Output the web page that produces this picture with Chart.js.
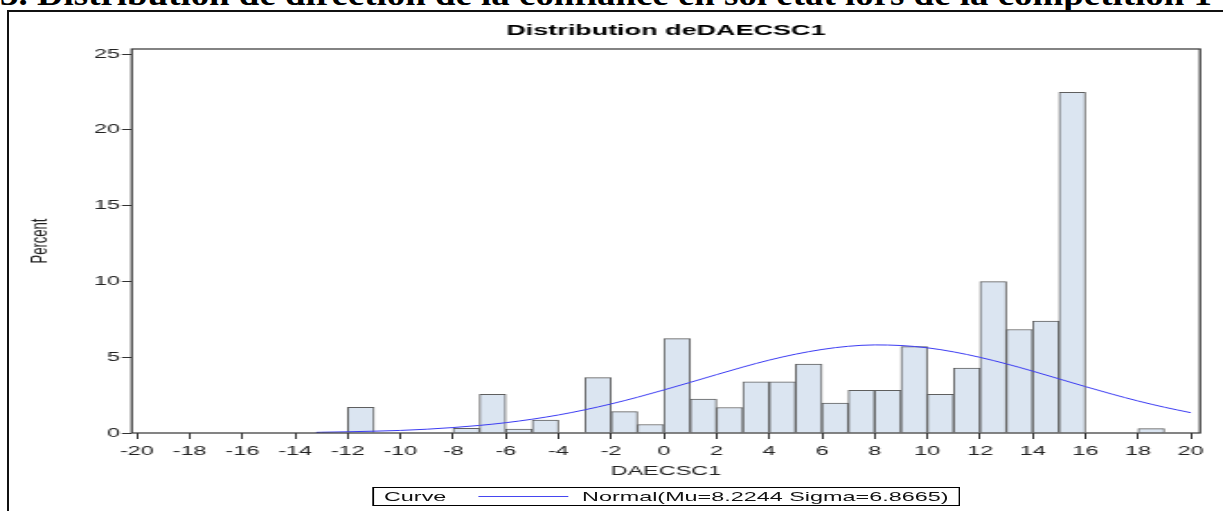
<!DOCTYPE html>
<html>
<head>
<meta charset="utf-8">
<script src="https://cdn.jsdelivr.net/npm/chart.js@4.4.1/dist/chart.umd.min.js"></script>
<style>
  html, body { margin:0; padding:0; background:#fff; }
  body { width:1223px; height:511px; overflow:hidden; position:relative; font-family:'Liberation Sans', Arial, sans-serif; }
  #heading { position:absolute; left:0; top:-22px; font:bold 32px/32px 'Liberation Serif', 'Times New Roman', serif; white-space:nowrap; transform-origin:0 0; color:#000; }
  #frame { position:absolute; left:7px; top:10px; width:1300px; height:600px; border-left:2px solid #111; border-top:2px solid #111; }
  /* the source picture is stretched horizontally, so draw narrow and scale */
  #wrap { position:absolute; left:0; top:0; width:680px; height:511px; transform:scaleX(1.79853); transform-origin:0 0; }
  #chart { position:absolute; left:0; top:0; }
  #legend { position:absolute; left:206.8px; top:487px; width:325px; height:17px; border:1px solid #000; font-size:13px; line-height:17px; color:#111; }
  #legend span { position:absolute; top:0; white-space:nowrap; }
  #legend .swatch { top:8px; height:0; width:50px; border-top:1px solid #4646f0; }
</style>
</head>
<body>
<div id="heading">3. Distribution de direction de la confiance en soi état lors de la compétition 1</div>
<div id="frame"></div>
<div id="wrap">
  <canvas id="chart" width="680" height="511"></canvas>
  <div id="legend">
    <span style="left:5.7px">Curve</span>
    <span class="swatch" style="left:58px"></span>
    <span style="left:115.8px">Normal(Mu=8.2244 Sigma=6.8665)</span>
  </div>
</div>
<script>
// histogram bins (left edge, width 1) and percent per bin
const binLeft = [-12, -8, -7, -6, -5, -3, -2, -1, 0, 1, 2, 3, 4, 5, 6, 7, 8, 9, 10, 11, 12, 13, 14, 15, 18];
const binPct  = [1.69, 0.30, 2.55, 0.26, 0.85, 3.65, 1.41, 0.56, 6.23, 2.23, 1.68, 3.37, 3.37, 4.55, 1.97, 2.81, 2.81, 5.70, 2.55, 4.28, 9.98, 6.83, 7.38, 22.47, 0.29];

// fitted normal curve
const curveX   = [-13.2, -13, -12, -11, -10, -9, -8, -7, -6, -5, -4, -3, -2, -1, 0, 1, 2, 3, 4, 5, 6, 7, 8, 9, 10, 11, 12, 13, 14, 15, 16, 17, 18, 19, 20];
const curvePct = [0.04, 0.05, 0.08, 0.12, 0.17, 0.25, 0.36, 0.50, 0.68, 0.91, 1.19, 1.53, 1.92, 2.36, 2.84, 3.34, 3.85, 4.35, 4.81, 5.20, 5.51, 5.72, 5.81, 5.77, 5.62, 5.35, 4.99, 4.56, 4.08, 3.57, 3.06, 2.57, 2.11, 1.70, 1.34];

const xTicks = [-20, -18, -16, -14, -12, -10, -8, -6, -4, -2, 0, 2, 4, 6, 8, 10, 12, 14, 16, 18, 20];
const yTicks = [0, 5, 10, 15, 20, 25];

const family = "'Liberation Sans', Arial, sans-serif";
const axisFont = {family: family, size: 13};

// fit the cut-off heading across the page
const heading = document.getElementById('heading');
heading.style.transform = 'scaleX(' + (1212 / heading.scrollWidth) + ')';

// plot frame round the chart area
const framePlugin = {
  id: 'frame',
  afterDatasetsDraw(chart) {
    const {ctx, chartArea: a} = chart;
    ctx.save();
    ctx.strokeStyle = '#333';
    ctx.lineWidth = 1.2;
    ctx.strokeRect(a.left, a.top, a.right - a.left, a.bottom - a.top);
    ctx.restore();
  }
};

new Chart(document.getElementById('chart'), {
  type: 'bar',
  data: {
    datasets: [
      {
        type: 'line',
        data: curveX.map((x, i) => ({x: x, y: curvePct[i]})),
        borderColor: '#3b3bf2',
        borderWidth: 1,
        pointRadius: 0,
        cubicInterpolationMode: 'monotone',
        order: 1
      },
      {
        data: binLeft.map((b, i) => ({x: b + 0.5, y: binPct[i]})),
        backgroundColor: '#dbe5f1',
        borderColor: '#5f5f5f',
        borderWidth: 1,
        barPercentage: 1,
        categoryPercentage: 1,
        order: 2
      }
    ]
  },
  options: {
    responsive: false,
    animation: false,
    events: [],
    layout: {padding: {left: 0, right: 12.8, top: 0, bottom: 30}},
    plugins: {
      legend: {display: false},
      tooltip: {enabled: false},
      title: {
        display: true,
        text: 'Distribution deDAECSC1',
        fullSize: false,
        color: '#000',
        font: {family: family, size: 15, weight: 'bold'},
        padding: {top: 22, bottom: 9}
      }
    },
    scales: {
      x: {
        type: 'linear',
        min: -20.2,
        max: 20.35,
        offset: false,
        afterBuildTicks: s => { s.ticks = xTicks.map(v => ({value: v})); },
        afterFit: s => { s.height = 48; },
        grid: {display: true, drawOnChartArea: false, drawTicks: true, tickLength: 6, color: '#333', lineWidth: 1, offset: false},
        border: {display: false},
        ticks: {color: '#222', font: axisFont, padding: 5, maxRotation: 0, autoSkip: false},
        title: {display: true, text: 'DAECSC1', color: '#222', font: axisFont, padding: {top: 0, bottom: 2}}
      },
      y: {
        min: 0,
        max: 25.33,
        afterBuildTicks: s => { s.ticks = yTicks.map(v => ({value: v})); },
        afterFit: s => { s.width = 73.23; },
        grid: {display: true, drawOnChartArea: false, drawTicks: true, tickLength: 5.5, color: '#333', lineWidth: 1},
        border: {display: false},
        ticks: {color: '#222', font: axisFont, padding: 1},
        title: {display: true, text: 'Percent', color: '#222', font: axisFont, padding: {top: 14.7, bottom: 0}}
      }
    }
  },
  plugins: [framePlugin]
});
</script>
</body>
</html>
